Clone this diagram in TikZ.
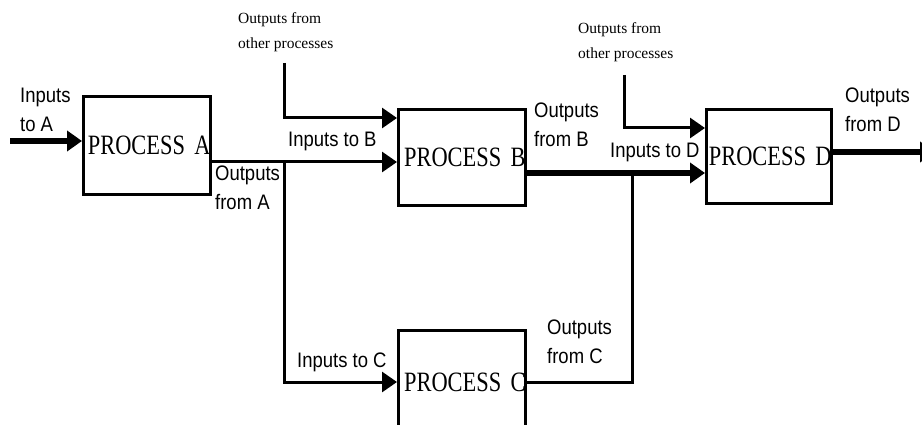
\documentclass[tikz,border=0pt]{standalone}
\usepackage{fontspec}
\setmainfont{Liberation Serif}
\newfontfamily\pfsans[FakeStretch=0.88]{Liberation Sans}
\newfontfamily\pfserif[FakeStretch=0.8,WordSpace=0.45]{Liberation Serif}
\usetikzlibrary{arrows.meta}
\tikzset{
  pf box/.style={draw=black, line width=3pt, inner sep=0pt, text width=#1, align=right, font=\pfserif\fontsize{28}{30}\selectfont},
  pf flow/.style={draw=black, line width=3pt},
  pf bold/.style={draw=black, line width=6pt},
  pf tip/.style={-{Triangle[length=15pt,width=20pt]}},
  pf label/.style={inner sep=0pt, anchor=north west, align=left, font=\pfsans\fontsize{21}{29}\selectfont},
  pf note/.style={inner sep=0pt, anchor=north west, align=left, font=\fontsize{15.5}{25}\selectfont},
}

\begin{document}
\begin{tikzpicture}[x=1pt,y=-1pt]
  \useasboundingbox (0,0) rectangle (922,425);
  \clip (0,0) rectangle (922,425);
  % process boxes
  \node[pf box=127pt, minimum height=98pt] (procA) at (147,145.5) {PROCESS A};
  \node[pf box=127pt, minimum height=96pt] (procB) at (462,157.5) {PROCESS B};
  \node[pf box=127pt, minimum height=103pt] (procC) at (462,382) {PROCESS C};
  \node[pf box=125pt, minimum height=94pt] (procD) at (769,156.5) {PROCESS D};
  % junctions and free ends
  \coordinate (inA) at (10,141);
  \coordinate (splitA) at (284,162);
  \coordinate (inC) at (284,382);
  \coordinate (joinD) at (632,173);
  \coordinate (othB) at (284,63);
  \coordinate (othD) at (624,75);
  \coordinate (outD) at (935,152);
  % flows
  \draw[pf bold,pf tip] (inA) -- (inA -| procA.west);
  \draw[pf flow] (splitA -| procA.east) -- (splitA);
  \draw[pf flow,pf tip] (splitA) -- (splitA -| procB.west);
  \draw[pf flow,pf tip] (splitA) -- (inC) -- (procC.west);
  \draw[pf flow,pf tip] (othB) |- ([yshift=-10pt]procB.north west);
  \draw[pf bold] (joinD -| procB.east) -- (joinD);
  \draw[pf bold,pf tip] (joinD) -- (joinD -| procD.west);
  \draw[pf flow] (procC.east) -| (joinD);
  \draw[pf flow,pf tip] (othD) |- ([yshift=-20pt]procD.north west);
  \draw[pf bold,pf tip] (procD.east |- outD) -- (outD);
  % labels
  \node[pf label] (lInA) at (20,88) {Inputs\\to A};
  \node[pf label] (lOutA) at (215,166) {Outputs\\from A};
  \node[pf label] (lInB) at (288,132) {Inputs to B};
  \node[pf label] (lOutB) at (534,103) {Outputs\\from B};
  \node[pf label] (lInC) at (297,353) {Inputs to C};
  \node[pf label] (lOutC) at (547,320) {Outputs\\from C};
  \node[pf label] (lInD) at (610,143) {Inputs to D};
  \node[pf label] (lOutD) at (845,88) {Outputs\\from D};
  \node[pf note] (lOthB) at (238,12) {Outputs from\\other processes};
  \node[pf note] (lOthD) at (578,22) {Outputs from\\other processes};
\end{tikzpicture}
\end{document}
